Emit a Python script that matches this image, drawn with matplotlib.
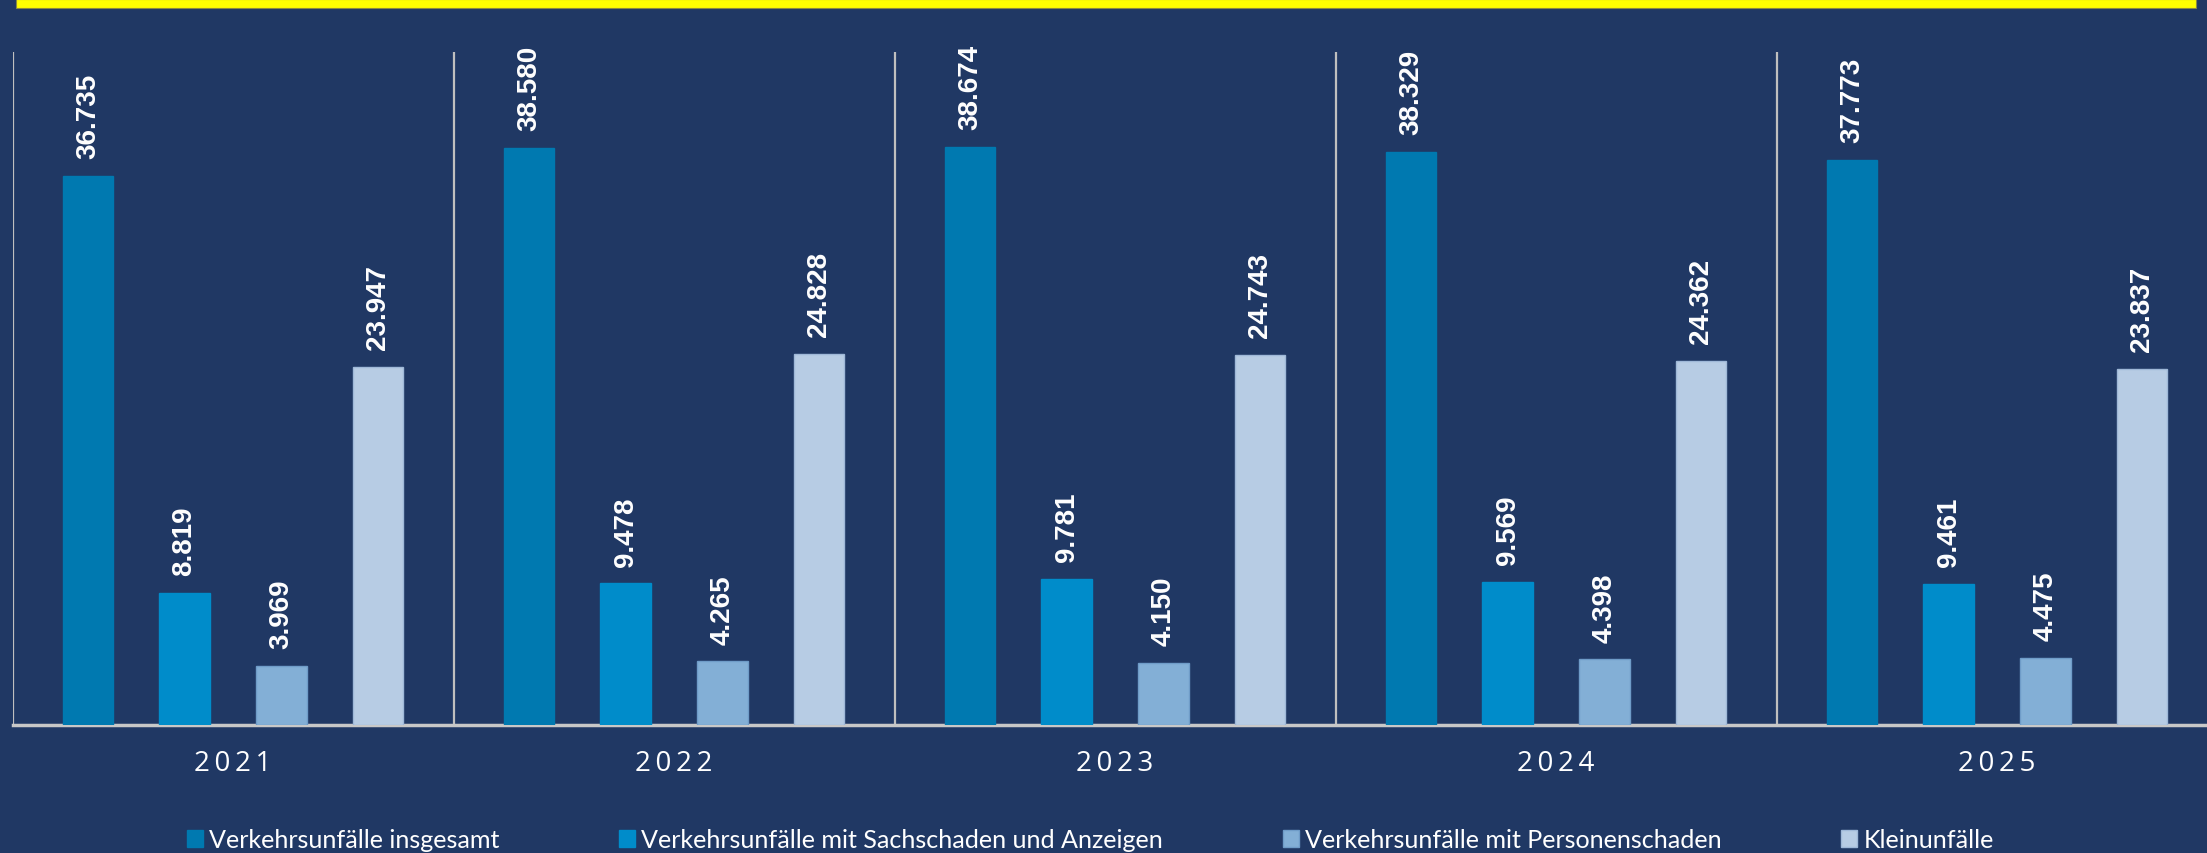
import matplotlib.pyplot as plt
from matplotlib.patches import Rectangle
import numpy as np

years = ["2021", "2022", "2023", "2024", "2025"]
series_names = ["Verkehrsunfälle insgesamt",
                "Verkehrsunfälle mit Sachschaden und Anzeigen",
                "Verkehrsunfälle mit Personenschaden",
                "Kleinunfälle"]
insgesamt = [36735, 38580, 38674, 38329, 37773]
sachschaden = [8819, 9478, 9781, 9569, 9461]
personenschaden = [3969, 4265, 4150, 4398, 4475]
kleinunfaelle = [23947, 24828, 24743, 24362, 23837]

bg = "#203864"
colors = ["#0079B0", "#008CCA", "#83AFD6", "#B7CCE4"]
edges = ["#0079B0", "#008CCA", "#6F9CC8", "#9FB8D8"]

def fmt(v):
    # German thousands separator
    return f"{v:,}".replace(",", ".")

fig = plt.figure(figsize=(22.07, 8.54), dpi=100, facecolor=bg)
ax = fig.add_axes([12.6/2207, 1-726/854, 2205/2207, 673/854])
ax.set_facecolor(bg)

x = np.arange(len(years))
offsets = [-0.329, -0.110, 0.110, 0.329]
w = 0.114
all_series = [insgesamt, sachschaden, personenschaden, kleinunfaelle]
handles = []
for vals, off, c, ec, name in zip(all_series, offsets, colors, edges, series_names):
    b = ax.bar(x + off, vals, w, color=c, edgecolor=ec, linewidth=1, label=name, zorder=3)
    handles.append(b)
    for xi, v in zip(x + off, vals):
        ax.annotate(fmt(v), (xi, v), xytext=(0, 12.7), textcoords="offset points",
                    rotation=90, ha="center", va="bottom", color="white",
                    fontsize=20, fontweight="bold", family="Liberation Sans")

ax.set_xlim(-0.5, 4.5)
ax.set_ylim(0, 45000)
for s in ["top", "right", "left"]:
    ax.spines[s].set_visible(False)
ax.spines["bottom"].set_color("#C8C8C8")
ax.spines["bottom"].set_linewidth(2.5)
for sx in np.arange(-0.5, 4.5, 1.0):
    ax.axvline(sx, color="#BFBFBF", lw=1.6, zorder=2)
ax.set_yticks([])
ax.set_xticks(x)
# letter-spaced year labels
ax.set_xticklabels(["\u2009".join(y) for y in years], color="white", fontsize=20,
                   family=["Open Sans", "DejaVu Sans"])
ax.tick_params(axis="x", length=0, pad=17)

# yellow header strip
fig.patches.append(Rectangle((16/2207, 1-9/854), 2180/2207, 9/854,
                             transform=fig.transFigure, facecolor="#FFFF00",
                             edgecolor="#8A8A40", linewidth=0.8))

leg = fig.legend(handles=handles, labels=series_names, loc="center",
                 bbox_to_anchor=(0.494, 1-841/854), ncol=4, frameon=False,
                 prop={"family": "Lato", "size": 18.1},
                 handlelength=0.64, handleheight=0.64, handletextpad=0.25,
                 columnspacing=4.75, borderpad=0)
for t in leg.get_texts():
    t.set_color("white")

plt.savefig("out.png", dpi=100, facecolor=bg)
